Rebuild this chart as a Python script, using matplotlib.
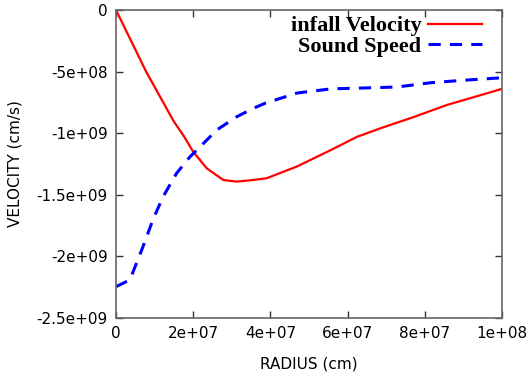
import matplotlib
matplotlib.use('Agg')
import matplotlib.pyplot as plt
import numpy as np

# infall velocity (red, solid)
infall_r = [0, 7.8e6, 15.0e6, 17.4e6, 20.0e6, 23.5e6, 27.8e6, 31.3e6, 35.5e6, 39.0e6,
            46.9e6, 55.7e6, 62.4e6, 68.7e6, 77.2e6, 85.8e6, 94.6e6, 1.0e8]
infall_v = [0, -0.5e9, -0.906e9, -1.015e9, -1.15e9, -1.285e9, -1.38e9, -1.393e9, -1.38e9, -1.366e9,
            -1.27e9, -1.136e9, -1.03e9, -0.958e9, -0.868e9, -0.77e9, -0.69e9, -0.64e9]

# sound speed (blue, dashed)
sound_r = [0, 3.6e6, 5.3e6, 7.0e6, 9.6e6, 12.2e6, 15.7e6, 19.2e6, 21.8e6, 26.1e6, 31.3e6,
           35.6e6, 38.6e6, 46.9e6, 55.7e6, 64.2e6, 72.8e6, 81.6e6, 90.2e6, 1.0e8]
sound_v = [-2.246e9, -2.19e9, -2.056e9, -1.92e9, -1.70e9, -1.515e9, -1.325e9, -1.19e9, -1.11e9,
           -0.974e9, -0.866e9, -0.798e9, -0.757e9, -0.674e9, -0.64e9, -0.633e9, -0.625e9,
           -0.59e9, -0.57e9, -0.55e9]

x_ticks = [0, 2e7, 4e7, 6e7, 8e7, 1e8]
x_labels = ['0', '2e+07', '4e+07', '6e+07', '8e+07', '1e+08']
y_ticks = [0, -5e8, -1e9, -1.5e9, -2e9, -2.5e9]
y_labels = ['0', '-5e+08', '-1e+09', '-1.5e+09', '-2e+09', '-2.5e+09']

plt.rcParams['font.family'] = ['DejaVu Sans']

fig = plt.figure(figsize=(5.28, 3.85), dpi=100)
ax = fig.add_axes([116 / 528, 1 - 318 / 385, (502 - 116) / 528, (318 - 10) / 385])

ax.plot(infall_r, infall_v, color='red', lw=1.6, label='infall Velocity')
ax.plot(sound_r, sound_v, color='blue', lw=2.2, dashes=(4, 3), label='Sound Speed')

ax.set_xlim(0, 1e8)
ax.set_ylim(-2.5e9, 0)
ax.set_xticks(x_ticks)
ax.set_xticklabels(x_labels)
ax.set_yticks(y_ticks)
ax.set_yticklabels(y_labels)
ax.tick_params(direction='in', length=5, width=1, color='#333333', labelsize=11,
               top=True, right=True, pad=6)
for s in ax.spines.values():
    s.set_color('#666666')
    s.set_linewidth(1.2)

ax.set_xlabel('RADIUS (cm)', fontsize=11, labelpad=11)
ax.set_ylabel('VELOCITY (cm/s)', fontsize=11, labelpad=10)

leg = ax.legend(loc='upper right', frameon=False, markerfirst=False,
                prop={'family': 'Liberation Serif', 'weight': 'bold', 'size': 16},
                handlelength=2.4, handletextpad=0.3, labelspacing=0.0,
                borderaxespad=0.0, bbox_to_anchor=(0.97, 1.01))

fig.savefig('out.png', dpi=100)
